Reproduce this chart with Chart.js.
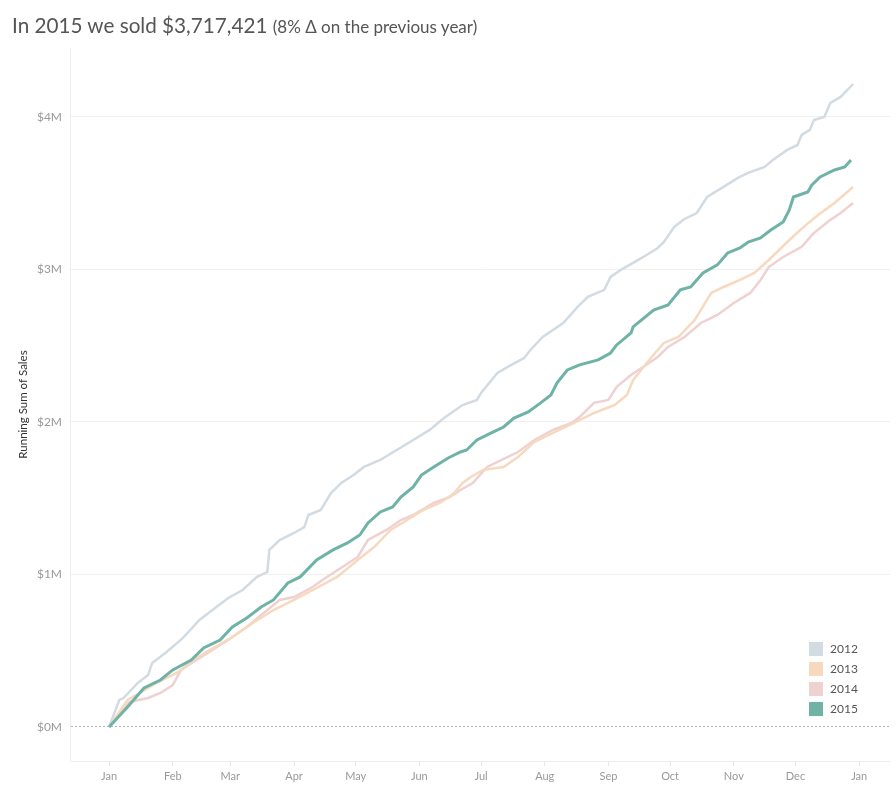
<!DOCTYPE html>
<html>
<head>
<meta charset="utf-8">
<script src="https://cdn.jsdelivr.net/npm/chart.js@4"></script>
<style>
  html, body { margin: 0; padding: 0; background: #fff; }
  #wrap { position: relative; width: 896px; height: 795px; font-family: Lato, "Open Sans", sans-serif; }
  #title { position: absolute; left: 12px; top: 13px; color: #555; font-size: 20.7px; white-space: nowrap; }
  #title small { font-size: 17px; }
  #legend { position: absolute; left: 809px; top: 639px; font-size: 12px; color: #555; }
  #legend div { height: 20px; line-height: 16px; display: flex; align-items: center; }
  #legend span.sw { display: inline-block; width: 14px; height: 14px; margin-right: 7px; }
  canvas { position: absolute; left: 0; top: 0; }
</style>
</head>
<body>
<div id="wrap">
  <canvas id="salesChart" width="896" height="795"></canvas>
  <div id="title">In 2015 we sold $3,717,421 <small>(8% Δ on the previous year)</small></div>
  <div id="legend"></div>
</div>
<script>
// ---- Daten (Tag im Jahr / laufende Summe in $) ----
const years  = ["2012", "2013", "2014", "2015"];
const colors = ["#d3dbe2", "#f6d9bf", "#efd1d1", "#6fb2a6"];

const days2012  = [0, 5, 7, 14, 19, 21, 28, 36, 44, 49, 58, 65, 72, 77, 78, 83, 90, 95, 97, 103, 108, 113, 119, 124, 132, 140, 148, 156, 163, 172, 179, 181, 189, 194, 202, 205, 211, 221, 228, 233, 241, 244, 249, 255, 260, 267, 270, 275, 280, 286, 291, 299, 306, 311, 319, 323, 330, 335, 337, 341, 343, 348, 351, 356, 362];
const sales2012 = [0, 177000, 190000, 289000, 341000, 420000, 492000, 584000, 702000, 754000, 846000, 898000, 984000, 1016000, 1161000, 1226000, 1272000, 1311000, 1390000, 1423000, 1534000, 1600000, 1652000, 1705000, 1751000, 1816000, 1882000, 1948000, 2026000, 2111000, 2144000, 2190000, 2321000, 2361000, 2420000, 2472000, 2557000, 2649000, 2754000, 2820000, 2866000, 2951000, 2997000, 3043000, 3082000, 3141000, 3180000, 3279000, 3331000, 3370000, 3475000, 3541000, 3600000, 3633000, 3672000, 3718000, 3784000, 3816000, 3882000, 3915000, 3980000, 4000000, 4092000, 4131000, 4216000];

const days2013  = [0, 9, 15, 23, 33, 41, 49, 60, 70, 80, 90, 99, 111, 121, 129, 137, 145, 153, 161, 168, 172, 176, 182, 192, 199, 207, 216, 226, 236, 246, 252, 255, 264, 270, 277, 285, 293, 299, 307, 314, 321, 330, 338, 345, 353, 362];
const sales2013 = [0, 177000, 223000, 289000, 354000, 439000, 505000, 590000, 682000, 767000, 833000, 898000, 984000, 1095000, 1180000, 1292000, 1357000, 1423000, 1469000, 1534000, 1600000, 1639000, 1685000, 1705000, 1770000, 1869000, 1928000, 1993000, 2059000, 2111000, 2177000, 2275000, 2426000, 2518000, 2557000, 2669000, 2846000, 2885000, 2931000, 2977000, 3062000, 3180000, 3279000, 3357000, 3436000, 3541000];

const days2014  = [0, 10, 19, 25, 31, 35, 41, 48, 58, 67, 77, 83, 90, 99, 106, 116, 121, 126, 135, 142, 148, 158, 166, 171, 177, 184, 191, 199, 207, 216, 225, 229, 236, 243, 247, 254, 267, 272, 280, 288, 296, 304, 312, 317, 321, 328, 337, 343, 351, 356, 362];
const sales2014 = [0, 164000, 190000, 223000, 275000, 374000, 426000, 485000, 570000, 656000, 767000, 833000, 852000, 918000, 984000, 1070000, 1115000, 1226000, 1292000, 1357000, 1390000, 1469000, 1508000, 1554000, 1600000, 1705000, 1751000, 1803000, 1882000, 1948000, 1993000, 2033000, 2125000, 2144000, 2230000, 2308000, 2426000, 2492000, 2557000, 2649000, 2702000, 2780000, 2846000, 2931000, 3016000, 3082000, 3148000, 3239000, 3325000, 3370000, 3436000];

const days2015  = [0, 9, 17, 25, 31, 40, 46, 54, 60, 67, 74, 80, 87, 93, 101, 109, 116, 122, 126, 132, 138, 142, 148, 152, 158, 165, 171, 174, 179, 186, 192, 197, 204, 210, 215, 218, 223, 229, 238, 244, 247, 254, 255, 265, 272, 278, 283, 289, 296, 301, 307, 311, 317, 322, 328, 331, 333, 340, 342, 346, 353, 358, 361];
const sales2015 = [0, 131000, 256000, 308000, 374000, 439000, 518000, 570000, 656000, 715000, 787000, 833000, 944000, 984000, 1095000, 1161000, 1207000, 1259000, 1338000, 1410000, 1443000, 1508000, 1574000, 1652000, 1705000, 1764000, 1803000, 1816000, 1882000, 1928000, 1967000, 2026000, 2066000, 2125000, 2177000, 2256000, 2341000, 2374000, 2407000, 2452000, 2505000, 2584000, 2623000, 2734000, 2767000, 2866000, 2885000, 2977000, 3030000, 3108000, 3141000, 3180000, 3207000, 3259000, 3311000, 3390000, 3475000, 3508000, 3554000, 3607000, 3652000, 3672000, 3717421];

// Monatsanfänge (Tag im Jahr) + Beschriftung
const monthDays   = [0, 31, 59, 90, 120, 151, 181, 212, 243, 273, 304, 334, 365];
const monthLabels = ["Jan", "Feb", "Mar", "Apr", "May", "Jun", "Jul", "Aug", "Sep", "Oct", "Nov", "Dec", "Jan"];
const yTicks      = [0, 1000000, 2000000, 3000000, 4000000];

const allDays  = [days2012, days2013, days2014, days2015];
const allSales = [sales2012, sales2013, sales2014, sales2015];

// ---- Legende ----
const leg = document.getElementById("legend");
years.forEach((y, i) => {
  const row = document.createElement("div");
  row.innerHTML = `<span class="sw" style="background:${colors[i]}"></span>${y}`;
  leg.appendChild(row);
});

// ---- Chart ----
const FONT = "Lato, 'Open Sans', sans-serif";
const datasets = years.map((y, i) => ({
  label: y,
  data: allDays[i].map((d, k) => ({ x: d, y: allSales[i][k] })),
  borderColor: colors[i],
  borderWidth: i === 3 ? 3 : 2.5,
  pointRadius: 0,
  tension: 0,
  order: i === 3 ? 0 : 1
}));

new Chart(document.getElementById("salesChart").getContext("2d"), {
  type: "line",
  data: { datasets },
  options: {
    responsive: false,
    animation: false,
    parsing: false,
    layout: { padding: { top: 48, right: 6, left: 0, bottom: 0 } },
    plugins: { legend: { display: false }, tooltip: { enabled: false } },
    scales: {
      x: {
        type: "linear",
        min: -19,
        max: 380,
        afterBuildTicks: (s) => { s.ticks = monthDays.map(v => ({ value: v })); },
        afterFit: (s) => { s.height = 34; },
        ticks: {
          autoSkip: false,
          maxRotation: 0,
          padding: 4,
          color: "#999",
          font: { family: FONT, size: 11 },
          callback: (v, i) => monthLabels[i]
        },
        grid: { drawOnChartArea: false, drawTicks: true, tickLength: 5, tickColor: "#e6e6e6" },
        border: { display: true, color: "#eeeeee" }
      },
      y: {
        min: -223000,
        max: 4452000,
        afterBuildTicks: (s) => { s.ticks = yTicks.map(v => ({ value: v })); },
        afterFit: (s) => { s.width = 70; },
        ticks: {
          color: "#999",
          padding: 8,
          font: { family: FONT, size: 12 },
          callback: (v) => "$" + (v / 1000000) + "M"
        },
        grid: {
          drawTicks: false,
          color: (c) => (c.tick && c.tick.value === 0) ? "#b5b5b5" : "#f0f0f0",
          lineWidth: 1
        },
        border: {
          display: true,
          color: "#eeeeee",
          dash: (c) => (c.tick && c.tick.value === 0) ? [2, 2] : []
        },
        title: {
          display: true,
          text: "Running Sum of Sales",
          color: "#333",
          font: { family: FONT, size: 11.5 },
          padding: { top: 16, bottom: 0 }
        }
      }
    }
  }
});
</script>
</body>
</html>
